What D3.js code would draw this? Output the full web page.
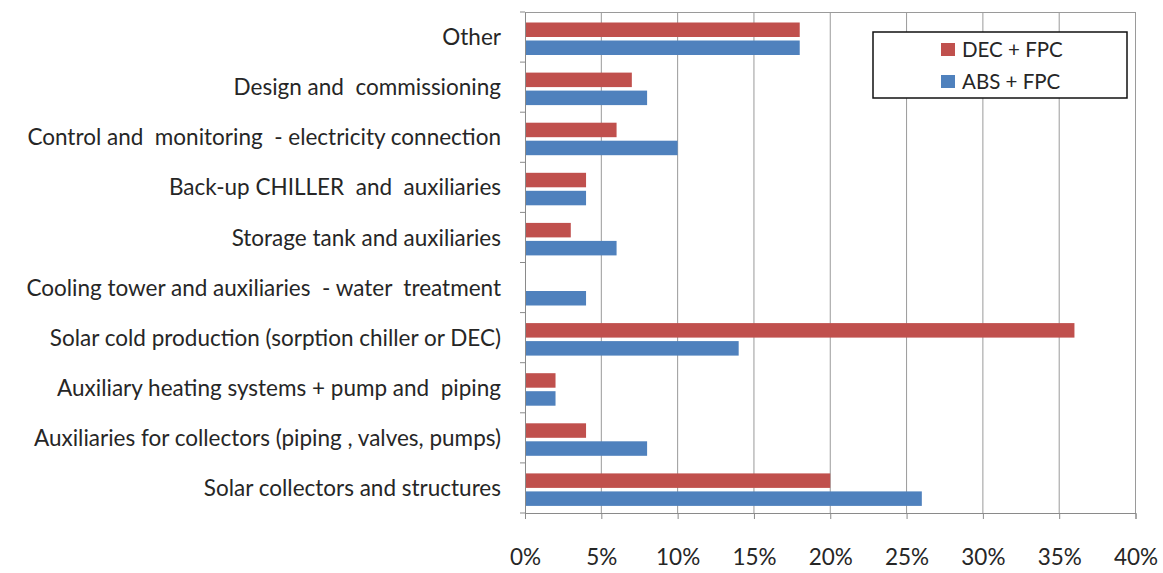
<!DOCTYPE html>
<html><head><meta charset="utf-8">
<script src="https://cdn.jsdelivr.net/npm/d3@7"></script>
<style>body{margin:0;background:#fff}svg{display:block}</style>
</head><body>
<svg id="c" width="1163" height="573"></svg>
<script>
const categories = [
  "Other",
  "Design and  commissioning",
  "Control and  monitoring  - electricity connection",
  "Back-up CHILLER  and  auxiliaries",
  "Storage tank and auxiliaries",
  "Cooling tower and auxiliaries  - water  treatment",
  "Solar cold production (sorption chiller or DEC)",
  "Auxiliary heating systems + pump and  piping",
  "Auxiliaries for collectors (piping , valves, pumps)",
  "Solar collectors and structures"
];
const decFpc = [18, 7, 6, 4, 3, 0, 36, 2, 4, 20];
const absFpc = [18, 8, 10, 4, 6, 4, 14, 2, 8, 26];
const seriesNames = ["DEC + FPC", "ABS + FPC"];
const xTicks = [0, 5, 10, 15, 20, 25, 30, 35, 40];

const svg = d3.select("#c");
const font = "Lato, 'Open Sans', sans-serif";
const L = 525, R = 1135.5, T = 12, B = 513;
const x = d3.scaleLinear().domain([0, 40]).range([L, R]);
const y = d3.scaleBand().domain(categories).range([T, B]).paddingInner(0).paddingOuter(0);
const colors = ["#C0504D", "#4F81BD"];

// gridlines
svg.append("g").selectAll("line").data(xTicks.slice(1)).join("line")
  .attr("x1", d => x(d)).attr("x2", d => x(d)).attr("y1", T).attr("y2", B)
  .attr("stroke", "#9a9a9a").attr("stroke-width", 1);
// top border
svg.append("line").attr("x1", L).attr("x2", R).attr("y1", T + 0.5).attr("y2", T + 0.5)
  .attr("stroke", "#9a9a9a");

// bars
const barH = 14.5, gap = 3.5, off = 10.5;
const data = [];
categories.forEach((c, i) => {
  data.push({c, s: 0, v: decFpc[i]});
  data.push({c, s: 1, v: absFpc[i]});
});
svg.append("g").selectAll("rect").data(data.filter(d => d.v > 0)).join("rect")
  .attr("x", x(0)).attr("width", d => x(d.v) - x(0))
  .attr("y", d => y(d.c) + off + d.s * (barH + gap)).attr("height", barH)
  .attr("fill", d => colors[d.s]);

// axes
const yAxis = d3.axisLeft(y).tickSize(0).tickFormat(d => d);
const yg = svg.append("g").attr("transform", `translate(${L},0)`).call(yAxis);
yg.select(".domain").attr("stroke", "#8a8a8a");
yg.selectAll("text").attr("x", -24).attr("dy", "0.36em").attr("font-family", font).attr("font-size", 22.5)
  .attr("fill", "#262626").style("white-space", "pre");
// category ticks
svg.append("g").selectAll("line").data(d3.range(categories.length + 1)).join("line")
  .attr("x1", L - 5).attr("x2", L).attr("y1", i => T + i * y.bandwidth()).attr("y2", i => T + i * y.bandwidth())
  .attr("stroke", "#8a8a8a");

const xAxis = d3.axisBottom(x).tickValues(xTicks).tickFormat(d => d + "%").tickSize(6).tickPadding(30);
const xg = svg.append("g").attr("transform", `translate(0,${B})`).call(xAxis);
xg.select(".domain").attr("stroke", "#8a8a8a");
xg.selectAll(".tick line").attr("stroke", "#8a8a8a");
xg.selectAll("text").attr("font-family", font).attr("font-size", 22.5).attr("fill", "#262626");

// legend
const lg = svg.append("g");
lg.append("rect").attr("x", 873).attr("y", 32).attr("width", 254).attr("height", 66)
  .attr("fill", "#fff").attr("stroke", "#111").attr("stroke-width", 1.5);
seriesNames.forEach((n, i) => {
  lg.append("rect").attr("x", 941).attr("y", 43 + i * 32).attr("width", 14).attr("height", 13).attr("fill", colors[i]);
  lg.append("text").attr("x", 962).attr("y", 57 + i * 32).text(n)
    .attr("font-family", font).attr("font-size", 20.5).attr("fill", "#262626");
});
</script>
</body></html>
